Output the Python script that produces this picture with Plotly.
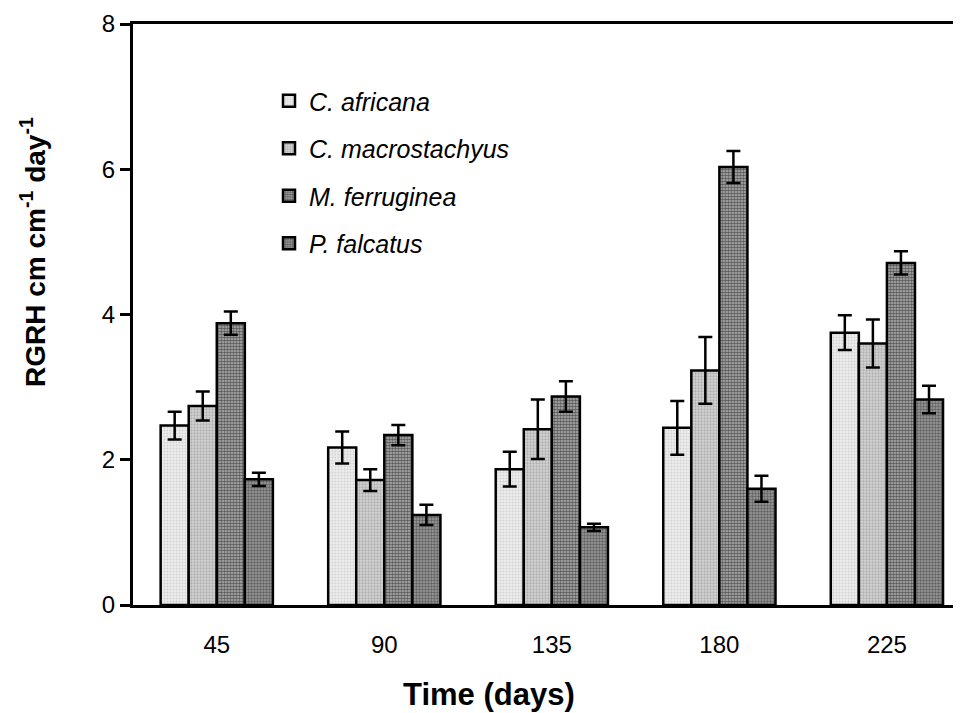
import plotly.graph_objects as go

days = ["45", "90", "135", "180", "225"]
species = ["C. africana", "C. macrostachyus", "M. ferruginea", "P. falcatus"]

c_africana = [2.47, 2.17, 1.87, 2.44, 3.75]
c_africana_err = [0.19, 0.22, 0.24, 0.37, 0.24]
c_macrostachyus = [2.74, 1.72, 2.42, 3.23, 3.60]
c_macrostachyus_err = [0.20, 0.15, 0.41, 0.46, 0.33]
m_ferruginea = [3.88, 2.34, 2.87, 6.03, 4.71]
m_ferruginea_err = [0.16, 0.14, 0.21, 0.22, 0.16]
p_falcatus = [1.73, 1.24, 1.07, 1.60, 2.83]
p_falcatus_err = [0.09, 0.14, 0.05, 0.18, 0.19]

y_ticks = [0, 2, 4, 6, 8]

values = [c_africana, c_macrostachyus, m_ferruginea, p_falcatus]
errors = [c_africana_err, c_macrostachyus_err, m_ferruginea_err, p_falcatus_err]
patterns = [
    dict(shape=".", fgcolor="#b8b8b8", bgcolor="#ececec", size=3, solidity=0.35),
    dict(shape=".", fgcolor="#8a8a8a", bgcolor="#d4d4d4", size=3, solidity=0.45),
    dict(shape=".", fgcolor="#000000", bgcolor="#b4b4b4", size=3, solidity=0.6),
    dict(shape=".", fgcolor="#2a2a2a", bgcolor="#9a9a9a", size=3, solidity=0.5),
]
fills = ["#e4e4e4", "#c4c4c4", "#8c8c8c", "#707070"]

fig = go.Figure()
for i, name in enumerate(species):
    fig.add_trace(go.Bar(
        x=days, y=values[i], name=name, legendgroup=name,
        marker=dict(color=fills[i], pattern=patterns[i],
                    line=dict(color="black", width=2.5)),
        error_y=dict(type="data", array=errors[i], visible=True,
                     color="black", thickness=2.5, width=7),
    ))

font_family = "Liberation Sans, Arial, sans-serif"

# page body adds an 8px offset; margins compensate
L, T, B = 125, 16, 116
W, H = 961, 713
plot_w = W - L
plot_h = H - T - B
bottom = H - B

fig.update_layout(
    width=W, height=H,
    margin=dict(l=L, r=0, t=T, b=B),
    paper_bgcolor="white", plot_bgcolor="white",
    barmode="group", bargap=0.33, bargroupgap=0,
    font=dict(family=font_family, color="black"),
    showlegend=True,
    legend=dict(x=(261 - L) / plot_w, y=(bottom - 70) / plot_h,
                xanchor="left", yanchor="top",
                font=dict(size=25, family=font_family, style="italic"),
                tracegroupgap=12, bgcolor="rgba(0,0,0,0)",
                itemclick=False),
    xaxis=dict(type="category", range=[-0.5, 4.49],
               showline=True, linecolor="black", linewidth=3, mirror=True,
               ticks="", showgrid=False, zeroline=False,
               tickfont=dict(size=24, family=font_family),
               ticklabelstandoff=16),
    yaxis=dict(range=[0, 8], tickvals=y_ticks, ticktext=[str(v) for v in y_ticks],
               showline=True, linecolor="black", linewidth=3,
               ticks="outside", ticklen=10, tickwidth=3, tickcolor="black",
               showgrid=False, zeroline=False,
               tickfont=dict(size=24, family=font_family)),
    annotations=[
        dict(text="<b>Time (days)</b>", xref="paper", yref="paper",
             x=(481 - L) / plot_w, y=-(686 - bottom) / plot_h,
             xanchor="center", yanchor="middle",
             showarrow=False, font=dict(size=31, family=font_family)),
        dict(text="<b>RGRH cm cm<sup>-1</sup> day<sup>-1</sup></b>", xref="paper", yref="paper",
             x=(25 - L) / plot_w, y=(bottom - 244) / plot_h,
             xanchor="center", yanchor="middle",
             textangle=-90, showarrow=False, font=dict(size=28, family=font_family)),
    ],
)

fig.write_html("out.html")
